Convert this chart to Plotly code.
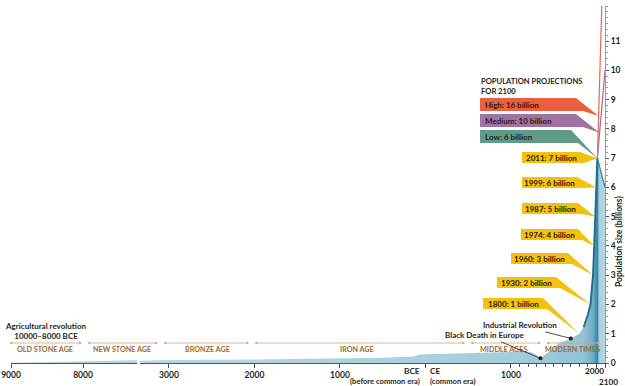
import plotly.graph_objects as go

# ---------------- data ----------------
# left (broken) segment: years BCE as negative numbers, population in billions
years_left = [-9000, -8500, -8000, -7600, -7250]
pop_left = [0.005, 0.03, 0.055, 0.075, 0.09]

# main segment
years = [-3340, -3000, -2000, -1000, -500, -150, -60, 0, 400, 700, 1000, 1200, 1260,
         1345, 1425, 1460, 1550, 1600, 1700, 1800, 1850, 1900, 1930, 1960, 1974, 1987, 1999, 2011]
pop = [0.08, 0.10, 0.12, 0.15, 0.18, 0.22, 0.29, 0.30, 0.33, 0.35, 0.38, 0.39, 0.34,
       0.16, 0.35, 0.42, 0.66, 0.72, 0.84, 1.0, 1.22, 1.65, 2.0, 3.0, 4.0, 5.0, 6.0, 7.0]

# projections for 2100
proj_years = [2011, 2100]
proj_low = [7, 6]
proj_med = [7, 10]
proj_high = [7, 16]

# milestones (labelled banners)
mile_years = [2011, 1999, 1987, 1974, 1960, 1930, 1800]
mile_pops = [7, 6, 5, 4, 3, 2, 1]
mile_labels = ["2011: 7 billion", "1999: 6 billion", "1987: 5 billion", "1974: 4 billion",
               "1960: 3 billion", "1930: 2 billion", "1800: 1 billion"]

proj_labels = ["High: 16 billion", "Medium: 10 billion", "Low: 6 billion"]

# events
event_years = [1345, 1700]
event_pops = [0.16, 0.84]
event_labels = ["Black Death in Europe", "Industrial Revolution"]

eras = ["OLD STONE AGE", "NEW STONE AGE", "BRONZE AGE", "IRON AGE", "MIDDLE AGES", "MODERN TIMES"]

left_ticks = [-9000, -8000]
left_ticktext = ["9000", "8000"]
right_ticks = [-3000, -2000, -1000, 0, 1000, 2000, 2100]
right_ticktext = ["3000", "2000", "1000", "", "1000", "", ""]
end_ticks = [2000, 2100]
end_ticktext = ["2000", "2100"]
minor_ticks = [1100, 1200, 1300, 1400, 1500, 1600, 1700, 1800, 1900]
y_ticks = list(range(0, 12))

# ---------------- layout geometry ----------------
W, H = 625, 386
ML, MR, MT, MB = 11, 20, 6, 23
PX0, PX1 = ML, W - MR          # 11 .. 605
PY0, PY1 = MT, H - MB          # 6 .. 363
PW, PH = PX1 - PX0, PY1 - PY0
YMAX = 12.2
SXL = 0.072                    # px per year, left segment
SXR = 0.0855                   # px per year, main segment
BREAK_L, BREAK_R = 137, 140
left_range = [-9000, -9000 + (BREAK_L - PX0) / SXL]
right_range = [2100 - (PX1 - BREAK_R) / SXR, 2100]

def fx(px):
    return (px - PX0) / PW

def fy(py):
    return (PY1 - py) / PH

def px2yr(px):
    return right_range[1] - (PX1 - px) / SXR

def py2val(py):
    return (PY1 - py) / PH * YMAX

FONT = "Lato, 'Open Sans', sans-serif"
DARK = "#231f20"
AXC = "#4a5560"

fig = go.Figure()

# left area
fig.add_trace(go.Scatter(x=years_left, y=pop_left, xaxis="x", yaxis="y", mode="lines",
                         fill="tozeroy", fillcolor="#b7d6e1", line=dict(width=0),
                         hoverinfo="skip", showlegend=False))

# main area (history + low projection)
fill_x = years + proj_years[1:]
fill_y = pop + proj_low[1:]
span = right_range[1] - right_range[0]
def pos(yr):
    return (yr - right_range[0]) / span
fig.add_trace(go.Scatter(
    x=fill_x, y=fill_y, xaxis="x2", yaxis="y", mode="lines", fill="tozeroy",
    line=dict(width=0), hoverinfo="skip", showlegend=False,
    fillgradient=dict(type="horizontal", start=right_range[0], stop=right_range[1],
                      colorscale=[[0, "#b9d7e2"], [pos(1000), "#a6cddb"], [pos(1850), "#93c3d4"],
                                  [pos(1960), "#6fadc5"], [pos(2005), "#3c8bab"],
                                  [pos(2011), "#2f7f9f"], [pos(2030), "#a9d0dd"], [1, "#b5d6e1"]])))

# dark edge of the recent curve
edge_x = [y for y in years if y >= 1850]
edge_y = [p for y, p in zip(years, pop) if y >= 1850]
fig.add_trace(go.Scatter(x=edge_x, y=edge_y, xaxis="x2", yaxis="y", mode="lines",
                         line=dict(color="#1f6f8e", width=2), hoverinfo="skip", showlegend=False))

# projections
fig.add_trace(go.Scatter(x=proj_years, y=proj_low, xaxis="x2", yaxis="y", mode="lines",
                         line=dict(color="#2f8a98", width=1.4), hoverinfo="skip", showlegend=False))
fig.add_trace(go.Scatter(x=proj_years, y=proj_med, xaxis="x2", yaxis="y", mode="lines",
                         line=dict(color="#9a6aa0", width=1.2), hoverinfo="skip", showlegend=False))
fig.add_trace(go.Scatter(x=proj_years, y=proj_high, xaxis="x2", yaxis="y", mode="lines",
                         line=dict(color="#e06a50", width=1.2), hoverinfo="skip", showlegend=False))

# event dots
fig.add_trace(go.Scatter(x=event_years, y=event_pops, xaxis="x2", yaxis="y", mode="markers",
                         marker=dict(color=DARK, size=4), hoverinfo="skip", showlegend=False,
                         cliponaxis=False))

shapes = []
annotations = []

# ---------------- banners ----------------
def banner(L, R, T, B, tipx, tipy, color, extra=4):
    path = (f"M {px2yr(L)},{py2val(T)} L {px2yr(R)},{py2val(T)} L {tipx},{tipy} "
            f"L {px2yr(R + extra)},{py2val(B)} L {px2yr(L)},{py2val(B)} Z")
    shapes.append(dict(type="path", path=path, xref="x2", yref="y",
                       fillcolor=color, line=dict(width=0), layer="above"))

YEL = "#f4c20d"
mile_box = [(522, 580, 152, 163), (522, 577, 177, 188), (522, 578, 203, 214),
            (521, 578, 229, 240), (511, 568, 253, 264), (497, 556, 277, 288),
            (483, 543, 298, 309)]
for (L, R, T, B), yr, pv, lab in zip(mile_box, mile_years, mile_pops, mile_labels):
    banner(L, R, T, B, yr, pv, YEL)
    annotations.append(dict(x=px2yr((L + R) / 2), y=py2val((T + B) / 2), xref="x2", yref="y",
                            text=f"<b>{lab}</b>", showarrow=False, xanchor="center", yanchor="middle",
                            font=dict(family=FONT, size=8, color="#2b2010")))

proj_colors = ["#ea5f3d", "#a072a6", "#5f9c88"]
proj_frac = [0.16, 0.29, 0.0]
proj_box = [(480, 576, 98, 111), (480, 576, 114, 127), (480, 571, 130, 143)]
proj_ends = [proj_high, proj_med, proj_low]
for (L, R, T, B), col, fr, ends, lab in zip(proj_box, proj_colors, proj_frac, proj_ends, proj_labels):
    tx = proj_years[0] + fr * (proj_years[1] - proj_years[0])
    ty = ends[0] + fr * (ends[1] - ends[0])
    banner(L, R, T, B, tx, ty, col, extra=7)
    annotations.append(dict(x=px2yr(L + 3), y=py2val((T + B) / 2), xref="x2", yref="y",
                            text=f"<b>{lab}</b>", showarrow=False, xanchor="left", yanchor="middle",
                            font=dict(family=FONT, size=8, color="#2a1a14")))

annotations.append(dict(x=fx(479), y=fy(74), xref="paper", yref="paper", xanchor="left", yanchor="top",
                        text="<b>POPULATION PROJECTIONS<br>FOR 2100</b>", showarrow=False, align="left",
                        font=dict(family=FONT, size=7.6, color=DARK)))

# red arrow on high projection leaving the top
hi_top_year = proj_years[0] + (YMAX + 0.1 - proj_high[0]) / (proj_high[1] - proj_high[0]) * (proj_years[1] - proj_years[0])
annotations.append(dict(x=hi_top_year, y=YMAX + 0.1, xref="x2", yref="y", text="", showarrow=True,
                        ax=0, ay=10, arrowhead=2, arrowsize=0.8, arrowwidth=1, arrowcolor="#e06a50"))

# ---------------- eras ----------------
era_arrows = [(8, 82), (86, 158), (162, 249), (253, 465), (469, 541), (545, 600)]
era_text_x = [45, 122, 207, 357, 503, 572]
ERA_LINE = "#c9a882"
for (a, b), tx, name in zip(era_arrows, era_text_x, eras):
    annotations.append(dict(x=fx(b), y=fy(343), xref="paper", yref="paper", text="", showarrow=True,
                            ax=-(b - a), ay=0, arrowside="end+start", arrowhead=2, startarrowhead=2,
                            arrowsize=0.7, startarrowsize=0.7, arrowwidth=0.8, arrowcolor=ERA_LINE,
                            standoff=0, startstandoff=0))
    annotations.append(dict(x=fx(tx), y=fy(349), xref="paper", yref="paper", text=f"<b>{name}</b>",
                            showarrow=False, xanchor="center", yanchor="middle",
                            font=dict(family=FONT, size=7.2, color="#9c6932")))

# agricultural revolution
annotations.append(dict(x=fx(46), y=fy(331), xref="paper", yref="paper",
                        text="<b>Agricultural revolution<br>10000–8000 BCE</b>", showarrow=False,
                        xanchor="center", yanchor="middle", align="center",
                        font=dict(family=FONT, size=8, color=DARK)))

# events
event_offsets = [(-55, -23), (-51, -13)]
for yr, pv, lab, (ax, ay) in zip(event_years, event_pops, event_labels, event_offsets):
    annotations.append(dict(x=yr, y=pv, xref="x2", yref="y", text=f"<b>{lab}</b>", showarrow=True,
                            ax=ax, ay=ay, arrowhead=0, arrowwidth=0.8, arrowcolor=DARK, standoff=1,
                            font=dict(family=FONT, size=8, color=DARK)))

# BCE / CE labels
annotations += [
    dict(x=fx(422), y=fy(371), xref="paper", yref="paper", text="<b>BCE</b>", showarrow=False,
         xanchor="right", yanchor="middle", font=dict(family=FONT, size=8.2, color=DARK)),
    dict(x=fx(428), y=fy(371), xref="paper", yref="paper", text="<b>CE</b>", showarrow=False,
         xanchor="left", yanchor="middle", font=dict(family=FONT, size=8.2, color=DARK)),
    dict(x=fx(422), y=fy(380.5), xref="paper", yref="paper", text="<b>(before common era)</b>",
         showarrow=False, xanchor="right", yanchor="middle", font=dict(family=FONT, size=7.6, color=DARK)),
    dict(x=fx(428), y=fy(380.5), xref="paper", yref="paper", text="<b>(common era)</b>",
         showarrow=False, xanchor="left", yanchor="middle", font=dict(family=FONT, size=7.6, color=DARK)),
]
# 2000 / 2100 labels at the end of the axis (staggered as in the original)
for yr, lab, xs, py in zip(end_ticks, end_ticktext, [-2, 3], [370.5, 381.5]):
    annotations.append(dict(x=yr, y=fy(py), xref="x2", yref="paper", text=f"<b>{lab}</b>", xshift=xs,
                            showarrow=False, xanchor="center", yanchor="middle",
                            font=dict(family=FONT, size=8.2, color=DARK)))

# y axis title
annotations.append(dict(x=fx(619), y=fy(242), xref="paper", yref="paper",
                        text="<b>Population size (billions)</b>", showarrow=False, textangle=-90,
                        xanchor="center", yanchor="middle", font=dict(family=FONT, size=8.5, color=DARK)))

tickfont = dict(family=FONT, size=8.5, color=DARK, weight="bold")
xcommon = dict(showgrid=False, zeroline=False, showline=True, linecolor=AXC, linewidth=1.2,
               ticks="outside", ticklen=4, tickcolor=AXC, tickwidth=1, tickfont=tickfont,
               anchor="y", tickmode="array", fixedrange=True, automargin=False, tickangle=0)

fig.update_layout(
    template="none",
    width=W, height=H, margin=dict(l=ML, r=MR, t=MT, b=MB, autoexpand=False),
    paper_bgcolor="white", plot_bgcolor="white", showlegend=False,
    xaxis=dict(domain=[0, fx(BREAK_L)], range=left_range, tickvals=left_ticks,
               ticktext=left_ticktext, **xcommon),
    xaxis2=dict(domain=[fx(BREAK_R), 1], range=right_range, tickvals=right_ticks,
                ticktext=right_ticktext,
                minor=dict(tickmode="array", tickvals=minor_ticks, ticks="outside", ticklen=3,
                           tickcolor=AXC, tickwidth=1),
                **xcommon),
    yaxis=dict(range=[0, YMAX], side="right", anchor="x2", showgrid=False, zeroline=False,
               showline=True, linecolor="#9a9a9a", linewidth=1, ticks="outside", ticklen=3,
               tickcolor="#555", tickvals=y_ticks, tickfont=tickfont, automargin=False,
               minor=dict(dtick=0.2, ticks="outside", ticklen=2, tickcolor="#999"), fixedrange=True),
    shapes=shapes, annotations=annotations,
)

fig.write_html("out.html", config={"displayModeBar": False},
               post_script="document.body.style.margin='0px';document.body.style.overflow='hidden';")
